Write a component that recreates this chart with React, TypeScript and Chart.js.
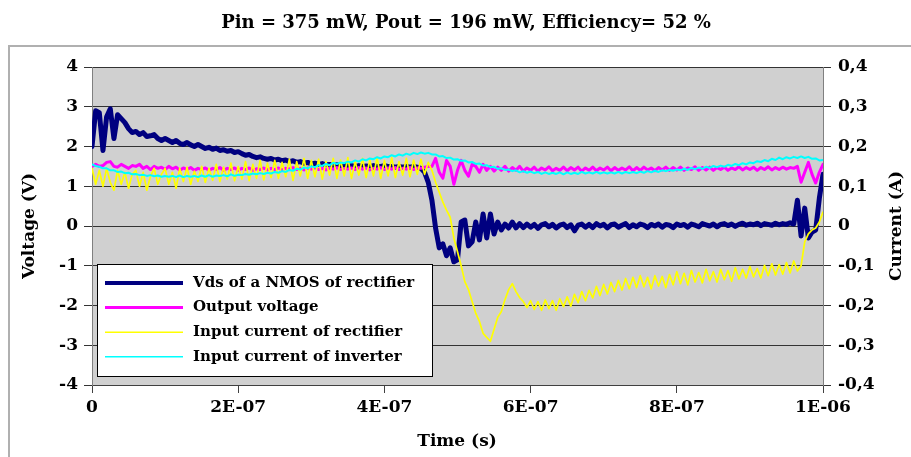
import { useEffect, useRef } from "react";
import { Chart, registerables } from "chart.js";

Chart.register(...registerables);

// ---------- data ----------
const TIME_STEP_NS = 5; // sample spacing of the traces, in ns (0 .. 1000 ns)
const xTickLabels = ["0", "2E-07", "4E-07", "6E-07", "8E-07", "1E-06"];
const titleText = "Pin = 375 mW, Pout = 196 mW, Efficiency= 52 %";
const seriesLabels = [
  "Vds of a NMOS of rectifier",
  "Output voltage",
  "Input current of rectifier",
  "Input current of inverter",
];

// Vds of a NMOS of rectifier (V)
const vdsNmos = [
  2.0, 2.9, 2.85, 1.9, 2.75, 2.95, 2.2, 2.8, 2.7, 2.6,
  2.45, 2.35, 2.38, 2.3, 2.35, 2.25, 2.27, 2.3, 2.2, 2.15,
  2.2, 2.15, 2.1, 2.15, 2.08, 2.05, 2.1, 2.04, 2.0, 2.05,
  2.0, 1.95, 1.98, 1.93, 1.96, 1.9, 1.92, 1.88, 1.9, 1.85,
  1.87, 1.82, 1.78, 1.8, 1.75, 1.72, 1.74, 1.7, 1.68, 1.7,
  1.66, 1.68, 1.64, 1.66, 1.62, 1.64, 1.6, 1.62, 1.58, 1.6,
  1.56, 1.58, 1.55, 1.57, 1.54, 1.55, 1.52, 1.54, 1.52, 1.53,
  1.5, 1.52, 1.5, 1.52, 1.5, 1.51, 1.5, 1.52, 1.5, 1.5,
  1.52, 1.5, 1.5, 1.48, 1.5, 1.48, 1.5, 1.48, 1.5, 1.48,
  1.45, 1.35, 1.1, 0.65, -0.05, -0.55, -0.45, -0.75, -0.55, -0.9,
  -0.85, 0.1, 0.15, -0.5, -0.4, 0.1, -0.35, 0.3, -0.3, 0.3,
  -0.2, 0.1, -0.1, 0.05, -0.05, 0.1, -0.05, 0.06, -0.04, 0.05,
  -0.03, 0.04, -0.06, 0.03, 0.06, -0.02, 0.04, -0.05, 0.02, 0.05,
  -0.04, 0.03, -0.12, 0.02, 0.05, -0.03, 0.04, -0.04, 0.06, 0.0,
  0.04, -0.05, 0.03, 0.05, -0.03, 0.02, 0.06, -0.04, 0.03, -0.02,
  0.05, 0.02, -0.04, 0.04, 0.0, 0.05, -0.03, 0.04, 0.02, -0.04,
  0.05, 0.01, 0.04, -0.03, 0.05, 0.02, -0.02, 0.06, 0.03, 0.0,
  0.05, -0.02, 0.04, 0.06, 0.01, 0.05, -0.01, 0.04, 0.07, 0.02,
  0.05, 0.03, 0.07, 0.01, 0.06, 0.04, 0.02, 0.07, 0.03, 0.06,
  0.04, 0.08, 0.05, 0.65, -0.25, 0.45, -0.3, -0.15, -0.1, 0.7,
  1.3,
];

// Output voltage (V)
const outputVoltage = [
  1.5, 1.55, 1.5, 1.52, 1.6, 1.62, 1.5, 1.48, 1.55, 1.5,
  1.45, 1.52, 1.5, 1.55, 1.45, 1.5, 1.42, 1.5, 1.45, 1.48,
  1.42, 1.5, 1.44, 1.48, 1.4, 1.46, 1.42, 1.47, 1.4, 1.45,
  1.42, 1.46, 1.4, 1.45, 1.42, 1.47, 1.4, 1.45, 1.42, 1.46,
  1.4, 1.45, 1.42, 1.46, 1.4, 1.44, 1.42, 1.46, 1.41, 1.45,
  1.42, 1.46, 1.41, 1.45, 1.43, 1.47, 1.42, 1.45, 1.41, 1.46,
  1.43, 1.47, 1.42, 1.45, 1.41, 1.46, 1.43, 1.47, 1.42, 1.45,
  1.43, 1.46, 1.42, 1.47, 1.43, 1.46, 1.41, 1.45, 1.43, 1.47,
  1.42, 1.46, 1.43, 1.47, 1.42, 1.45, 1.43, 1.47, 1.42, 1.46,
  1.45, 1.48, 1.5, 1.5, 1.7, 1.35, 1.2, 1.65, 1.5, 1.05,
  1.4, 1.65, 1.4, 1.25, 1.55, 1.5, 1.35, 1.55, 1.4, 1.5,
  1.38, 1.48, 1.4, 1.5, 1.38, 1.47, 1.4, 1.5, 1.38, 1.46,
  1.4, 1.48, 1.38, 1.46, 1.41, 1.49, 1.39, 1.45, 1.4, 1.48,
  1.39, 1.47, 1.41, 1.48, 1.38, 1.46, 1.4, 1.48, 1.39, 1.46,
  1.41, 1.48, 1.39, 1.47, 1.4, 1.46, 1.41, 1.49, 1.39, 1.47,
  1.4, 1.48, 1.41, 1.46, 1.39, 1.47, 1.41, 1.48, 1.4, 1.47,
  1.41, 1.48, 1.4, 1.46, 1.42, 1.49, 1.4, 1.47, 1.41, 1.48,
  1.4, 1.47, 1.42, 1.48, 1.4, 1.46, 1.42, 1.49, 1.41, 1.47,
  1.42, 1.48, 1.4, 1.47, 1.42, 1.49, 1.41, 1.47, 1.42, 1.48,
  1.43, 1.47, 1.45, 1.5, 1.1, 1.35, 1.6, 1.3, 1.08, 1.35,
  1.55,
];

// Input current of rectifier (A)
const rectifierCurrent = [
  0.145, 0.105, 0.14, 0.1, 0.145, 0.11, 0.09, 0.14, 0.105, 0.135,
  0.095, 0.13, 0.14, 0.1, 0.135, 0.09, 0.125, 0.145, 0.105, 0.13,
  0.145, 0.105, 0.135, 0.095, 0.145, 0.112, 0.148, 0.105, 0.138, 0.112,
  0.15, 0.11, 0.145, 0.115, 0.155, 0.112, 0.148, 0.118, 0.158, 0.114,
  0.15, 0.118, 0.162, 0.114, 0.155, 0.12, 0.165, 0.116, 0.158, 0.122,
  0.165, 0.12, 0.16, 0.124, 0.168, 0.115, 0.162, 0.126, 0.17, 0.12,
  0.165, 0.124, 0.168, 0.118, 0.162, 0.128, 0.17, 0.12, 0.166, 0.126,
  0.172, 0.12, 0.162, 0.128, 0.17, 0.122, 0.166, 0.126, 0.172, 0.12,
  0.165, 0.126, 0.172, 0.122, 0.162, 0.128, 0.17, 0.124, 0.166, 0.13,
  0.168, 0.13, 0.16, 0.14, 0.11, 0.085, 0.06, 0.04, 0.022, -0.03,
  -0.065, -0.1, -0.14, -0.16, -0.19, -0.22, -0.24, -0.27, -0.28, -0.29,
  -0.26, -0.23, -0.215, -0.185, -0.16, -0.145, -0.165, -0.18, -0.19, -0.205,
  -0.188, -0.21, -0.19, -0.212, -0.186, -0.208, -0.188, -0.212, -0.183, -0.203,
  -0.178, -0.202, -0.172, -0.193, -0.165, -0.188, -0.162, -0.181, -0.152, -0.175,
  -0.147, -0.171, -0.142, -0.165, -0.137, -0.161, -0.132, -0.158, -0.129, -0.155,
  -0.125, -0.153, -0.129, -0.158, -0.125, -0.151, -0.127, -0.155, -0.122, -0.148,
  -0.115, -0.145, -0.119, -0.148, -0.112, -0.141, -0.117, -0.143, -0.109, -0.138,
  -0.115, -0.141, -0.109, -0.135, -0.112, -0.139, -0.105, -0.133, -0.109, -0.131,
  -0.102, -0.128, -0.107, -0.131, -0.099, -0.125, -0.095, -0.123, -0.097, -0.121,
  -0.092, -0.118, -0.088, -0.113, -0.1, -0.04, -0.02, -0.01, -0.005, 0.01,
  0.035,
];

// Input current of inverter (A)
const inverterCurrent = [
  0.155, 0.151, 0.149, 0.145, 0.145, 0.14, 0.14, 0.136, 0.137, 0.133,
  0.134, 0.13, 0.131, 0.128, 0.129, 0.126, 0.128, 0.125, 0.127, 0.124,
  0.126, 0.124, 0.126, 0.123, 0.127, 0.123, 0.126, 0.124, 0.126, 0.123,
  0.127, 0.124, 0.128, 0.124, 0.127, 0.126, 0.128, 0.125, 0.13, 0.126,
  0.129, 0.128, 0.131, 0.129, 0.132, 0.13, 0.133, 0.131, 0.134, 0.132,
  0.136, 0.134, 0.138, 0.136, 0.141, 0.139, 0.144, 0.142, 0.147, 0.145,
  0.15, 0.148, 0.153, 0.151, 0.156, 0.153, 0.159, 0.156, 0.16, 0.158,
  0.162, 0.16, 0.165, 0.162, 0.168, 0.165, 0.17, 0.168, 0.173, 0.17,
  0.175, 0.173, 0.178, 0.175, 0.18, 0.177, 0.182, 0.179, 0.184, 0.181,
  0.185, 0.182, 0.184, 0.18, 0.18, 0.175, 0.176, 0.171, 0.172, 0.167,
  0.168, 0.164, 0.165, 0.16, 0.161, 0.156, 0.157, 0.152, 0.153, 0.148,
  0.149, 0.144, 0.145, 0.141, 0.142, 0.138, 0.14, 0.135, 0.138, 0.134,
  0.137, 0.133, 0.136, 0.131, 0.135, 0.131, 0.134, 0.131, 0.135, 0.13,
  0.135, 0.131, 0.134, 0.131, 0.136, 0.132, 0.135, 0.132, 0.136, 0.132,
  0.135, 0.132, 0.135, 0.132, 0.136, 0.132, 0.136, 0.133, 0.136, 0.133,
  0.137, 0.134, 0.138, 0.135, 0.139, 0.136, 0.14, 0.138, 0.141, 0.139,
  0.142, 0.14, 0.144, 0.141, 0.146, 0.143, 0.147, 0.144, 0.149, 0.146,
  0.151, 0.148, 0.152, 0.149, 0.154, 0.151, 0.156, 0.153, 0.158, 0.155,
  0.16, 0.158, 0.163, 0.161, 0.166, 0.163, 0.169, 0.166, 0.172, 0.168,
  0.173, 0.17, 0.174, 0.171, 0.175, 0.171, 0.174, 0.169, 0.17, 0.165,
  0.166,
];

// ---------- styling ----------
const FONT_FAMILY = '"DejaVu Serif", "Liberation Serif", serif';
const COLORS = ["#000080", "#ff00ff", "#ffff00", "#00ffff"];
const WIDTHS = [5, 3, 1.7, 2];

const decorPlugin = {
  id: "decor",
  beforeDraw(chart: any) {
    const { ctx, chartArea } = chart;
    ctx.save();
    ctx.fillStyle = "#ffffff";
    ctx.fillRect(0, 0, chart.width, chart.height);
    // outer frame (top + left visible)
    ctx.strokeStyle = "#b0b0b0";
    ctx.lineWidth = 2;
    ctx.beginPath();
    ctx.moveTo(9, chart.height + 2);
    ctx.lineTo(9, 46);
    ctx.lineTo(chart.width + 2, 46);
    ctx.stroke();
    // plot background
    ctx.fillStyle = "#d0d0d0";
    ctx.fillRect(chartArea.left, chartArea.top, chartArea.right - chartArea.left, chartArea.bottom - chartArea.top);
    ctx.restore();
  },
  afterDraw(chart: any) {
    const { ctx, chartArea } = chart;
    ctx.save();
    ctx.fillStyle = "#000";
    // title
    ctx.font = `bold 18px ${FONT_FAMILY}`;
    ctx.textAlign = "center";
    ctx.textBaseline = "middle";
    ctx.fillText(titleText, 466, 23);
    // axis titles
    ctx.font = `bold 17px ${FONT_FAMILY}`;
    ctx.fillText("Time (s)", 457, 442);
    const midY = (chartArea.top + chartArea.bottom) / 2;
    ctx.save();
    ctx.translate(30, midY);
    ctx.rotate(-Math.PI / 2);
    ctx.fillText("Voltage (V)", 0, 0);
    ctx.restore();
    ctx.save();
    ctx.translate(897, midY);
    ctx.rotate(-Math.PI / 2);
    ctx.fillText("Current (A)", 0, 0);
    ctx.restore();

    // legend box
    const bx = chartArea.left + 5;
    const by = 264;
    const bw = 335;
    const bh = 112;
    ctx.fillStyle = "#ffffff";
    ctx.fillRect(bx, by, bw, bh);
    ctx.strokeStyle = "#000";
    ctx.lineWidth = 1;
    ctx.strokeRect(bx + 0.5, by + 0.5, bw, bh);
    ctx.font = `bold 15px ${FONT_FAMILY}`;
    ctx.textAlign = "left";
    ctx.textBaseline = "middle";
    seriesLabels.forEach((label, i) => {
      const y = by + 19 + i * 24.6;
      ctx.strokeStyle = COLORS[i];
      ctx.lineWidth = i === 0 ? 4 : i === 1 ? 3 : 1.5;
      ctx.beginPath();
      ctx.moveTo(bx + 8, y);
      ctx.lineTo(bx + 86, y);
      ctx.stroke();
      ctx.fillStyle = "#000";
      ctx.fillText(label, bx + 96, y);
    });
    ctx.restore();
  },
};

export default function App() {
  const canvasRef = useRef<HTMLCanvasElement | null>(null);

  useEffect(() => {
    if (!canvasRef.current) return;
    const toPoints = (arr: number[]) => arr.map((y, i) => ({ x: i * TIME_STEP_NS, y }));
    const tickFont = { family: FONT_FAMILY, size: 17, weight: "bold" as const };

    const chart = new Chart(canvasRef.current, {
      type: "line",
      data: {
        datasets: [
          { label: seriesLabels[0], data: toPoints(vdsNmos), yAxisID: "yV", borderColor: COLORS[0], borderWidth: WIDTHS[0], order: 4 },
          { label: seriesLabels[1], data: toPoints(outputVoltage), yAxisID: "yV", borderColor: COLORS[1], borderWidth: WIDTHS[1], order: 3 },
          { label: seriesLabels[2], data: toPoints(rectifierCurrent), yAxisID: "yA", borderColor: COLORS[2], borderWidth: WIDTHS[2], order: 2 },
          { label: seriesLabels[3], data: toPoints(inverterCurrent), yAxisID: "yA", borderColor: COLORS[3], borderWidth: WIDTHS[3], order: 1 },
        ],
      },
      options: {
        animation: false,
        responsive: false,
        events: [],
        elements: {
          point: { radius: 0 },
          line: { tension: 0, borderJoinStyle: "round", borderCapStyle: "round", fill: false },
        },
        layout: { padding: { top: 67, left: 0, right: 0, bottom: 0 } },
        plugins: {
          legend: { display: false },
          title: { display: false },
          tooltip: { enabled: false },
        },
        scales: {
          x: {
            type: "linear",
            min: 0,
            max: 1000,
            ticks: {
              stepSize: 200,
              maxRotation: 0,
              padding: 4,
              color: "#000",
              font: tickFont,
              callback: (v: any) => xTickLabels[Math.round(Number(v) / 200)] ?? "",
            },
            grid: { drawOnChartArea: false, drawTicks: true, tickLength: 8, color: "#404040" },
            border: { display: true, color: "#404040" },
            afterFit: (s: any) => {
              s.height = 72;
            },
          },
          yV: {
            type: "linear",
            position: "left",
            min: -4,
            max: 4,
            ticks: { stepSize: 1, padding: 6, color: "#000", font: tickFont },
            grid: { color: "#333333", tickLength: 8, drawTicks: true },
            border: { display: true, color: "#808080" },
            afterFit: (s: any) => {
              s.width = 92;
            },
          },
          yA: {
            type: "linear",
            position: "right",
            min: -0.4,
            max: 0.4,
            ticks: {
              stepSize: 0.1,
              padding: 7,
              color: "#000",
              font: tickFont,
              callback: (v: any) => {
                const n = Math.round(Number(v) * 10) / 10;
                return n === 0 ? "0" : n.toFixed(1).replace(".", ",");
              },
            },
            grid: { drawOnChartArea: false, tickLength: 8, color: "#333333" },
            border: { display: true, color: "#808080" },
            afterFit: (s: any) => {
              s.width = 88;
            },
          },
        },
      } as any,
      plugins: [decorPlugin],
    });
    return () => chart.destroy();
  }, []);

  return (
    <div style={{ position: "absolute", left: 0, top: 0, width: 911, height: 457, background: "#fff" }}>
      <canvas ref={canvasRef} width={911} height={457} style={{ display: "block", width: 911, height: 457 }} />
    </div>
  );
}
